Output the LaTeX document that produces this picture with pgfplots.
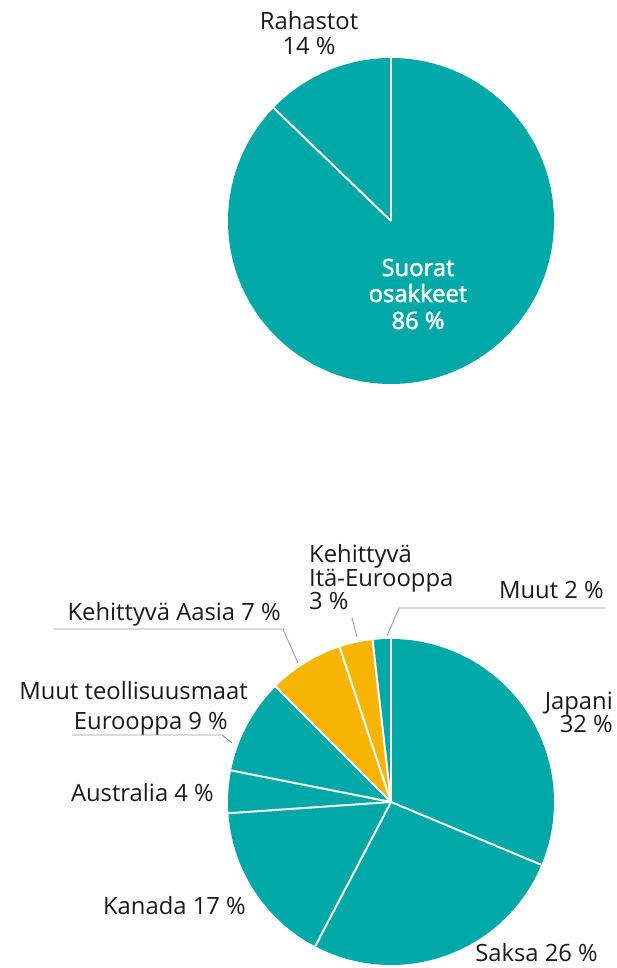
\documentclass[border=0pt]{standalone}
\usepackage{pgfplots}
\pgfplotsset{compat=1.18}
\usepackage{pgfplotstable}
\usepackage{fontspec}
\setmainfont{Open Sans}
\newfontfamily\semib{Open Sans}[FakeBold=2.2]
\definecolor{pteal}{HTML}{00A9A7}
\definecolor{pyellow}{HTML}{F7B400}
\definecolor{leader}{HTML}{9A9A9A}
\definecolor{txt}{HTML}{1A1A1A}

% shares (clockwise from 12 o'clock)
\pgfplotstableread{
name value color
Suorat 87.2 pteal
Rahastot 12.8 pteal
}\toppie

\pgfplotstableread{
name value color
Japani 31.3 pteal
Saksa 26.4 pteal
Kanada 16.2 pteal
Australia 4.2 pteal
Eurooppa 9.4 pteal
Aasia 7.4 pyellow
ItaEurooppa 3.3 pyellow
Muut 1.8 pteal
}\bottompie

\newcommand\drawpie[4]{%
  \pgfplotstablegetrowsof{#1}%
  \pgfmathtruncatemacro\nrows{\pgfplotsretval-1}%
  \gdef\pieang{90}%
  \foreach \i in {0,...,\nrows}{%
    \pgfplotstablegetelem{\i}{value}\of{#1}\let\v\pgfplotsretval
    \pgfplotstablegetelem{\i}{color}\of{#1}\let\c\pgfplotsretval
    \pgfmathsetmacro\endang{\pieang-3.6*\v}%
    \edef\temp{\noexpand\fill[\c] (axis cs:#2,#3) -- ++(\pieang:#4pt) arc[start angle=\pieang,end angle=\endang,radius=#4pt] -- cycle;}%
    \temp
    \xdef\pieang{\endang}%
  }%
  \gdef\pieang{90}%
  \foreach \i in {0,...,\nrows}{%
    \pgfplotstablegetelem{\i}{value}\of{#1}\let\v\pgfplotsretval
    \pgfmathsetmacro\endang{\pieang-3.6*\v}%
    \edef\temp{\noexpand\draw[white,line width=2pt] (axis cs:#2,#3) -- ++(\pieang:#4pt);}%
    \temp
    \xdef\pieang{\endang}%
  }%
}

\tikzset{
  lab/.style={txt,inner sep=0pt,font=\fontsize{23.8}{28}\selectfont},
  inlab/.style={white,inner sep=0pt,font=\fontsize{23.8}{28}\semib},
}

\begin{document}
\begin{tikzpicture}
\begin{axis}[
  anchor=origin, at={(0,0)},
  x=1pt, y=1pt,
  xmin=0, xmax=617, ymin=0, ymax=968,
  hide axis, clip=false,
]
\drawpie{\toppie}{391}{747}{163}
\drawpie{\bottompie}{391}{166}{163}

% leader lines
\draw[leader,line width=0.9pt] (axis cs:387,332) -- (axis cs:399,360) -- (axis cs:605,360);
\draw[leader,line width=0.9pt] (axis cs:352,350) -- (axis cs:357,331);
\draw[leader,line width=0.9pt] (axis cs:53,339) -- (axis cs:283,339) -- (axis cs:298,305);
\draw[leader,line width=0.9pt] (axis cs:72,233) -- (axis cs:222,233) -- (axis cs:232,225);

\node[anchor=base,lab] at (axis cs:309,938) {Rahastot};
\node[anchor=base,lab] at (axis cs:309,913) {14 \%};
\node[anchor=base,inlab] at (axis cs:418,692) {Suorat};
\node[anchor=base,inlab] at (axis cs:418,666) {osakkeet};
\node[anchor=base,inlab] at (axis cs:418,639) {86 \%};

\node[anchor=base west,lab] at (axis cs:309,405) {Kehittyvä};
\node[anchor=base west,lab] at (axis cs:309,381) {Itä-Eurooppa};
\node[anchor=base west,lab] at (axis cs:309,358) {3 \%};
\node[anchor=base east,lab] at (axis cs:604,369) {Muut 2 \%};
\node[anchor=base east,lab] at (axis cs:281,347) {Kehittyvä Aasia 7 \%};
\node[anchor=base east,lab] at (axis cs:248,268) {Muut teollisuusmaat};
\node[anchor=base east,lab] at (axis cs:228,238) {Eurooppa 9 \%};
\node[anchor=base east,lab] at (axis cs:214,166) {Australia 4 \%};
\node[anchor=base east,lab] at (axis cs:246,53) {Kanada 17 \%};
\node[anchor=base east,lab] at (axis cs:613,258) {Japani};
\node[anchor=base east,lab] at (axis cs:613,235) {32 \%};
\node[anchor=base east,lab] at (axis cs:598,6) {Saksa 26 \%};
\end{axis}
\pgfresetboundingbox
\path (0,0) rectangle (617pt,968pt);
\end{tikzpicture}
\end{document}
